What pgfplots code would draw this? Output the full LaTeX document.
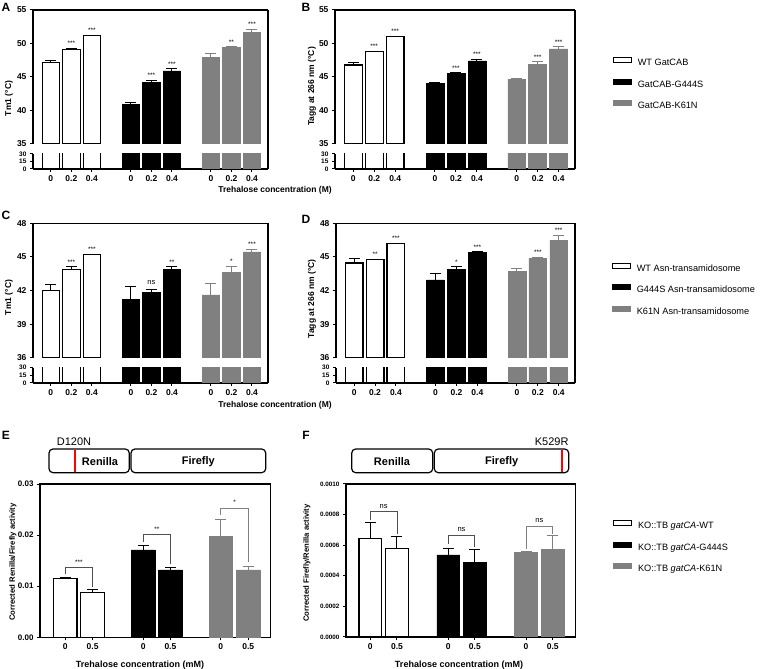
\documentclass[border=0pt]{standalone}
\usepackage{pgfplots}
\pgfplotsset{compat=1.18}
\usepackage{fontspec}
\setmainfont{Liberation Sans}
\definecolor{bgray}{RGB}{128,128,128}
\definecolor{bkt}{RGB}{80,80,80}
\tikzset{
  ann/.style={font=\fontsize{6.5}{7}\selectfont, inner sep=0pt, anchor=base, yshift=2.7pt},
  nsl/.style={font=\fontsize{7.5}{8}\selectfont, inner sep=0pt, anchor=base, yshift=4.5pt},
}
\pgfplotsset{
  base/.style={scale only axis, clip mode=individual, tick align=outside,
    axis line style={line width=1.1pt, black},
    major tick style={line width=1pt, black}, major tick length=3pt,
    /pgf/number format/assume math mode=true, scaled y ticks=false,
    tick label style={font=\bfseries\fontsize{8.5}{9}\selectfont},
    ytick pos=left},
  brk/.style={base, xmin=-0.87, xmax=10.58, /pgf/bar width=0.85},
  up/.style={brk, axis x line*=top, axis y line*=box, xtick=\empty},
  low/.style={brk, axis x line*=bottom, axis y line*=box, ymin=0, ymax=30,
    ytick={0,15,30}, yticklabels={0,15,30},
    yticklabel style={font=\bfseries\fontsize{6.5}{6.5}\selectfont},
    xtick={0,1,2,3.9,4.9,5.9,7.8,8.8,9.8},
    xticklabels={0,0.2,0.4,0,0.2,0.4,0,0.2,0.4}},
  wb/.style={ybar, bar shift=0pt, fill=white, draw=black, line width=1.2pt},
  bb/.style={ybar, bar shift=0pt, fill=black, draw=black, line width=0.6pt},
  gb/.style={ybar, bar shift=0pt, fill=bgray, draw=bgray, line width=0.6pt},
  eb/.style={error bars/.cd, y dir=plus, y explicit, error mark=-,
    error bar style={line width=1pt, draw=#1, solid},
    error mark options={rotate=90, mark size=5.5pt, line width=1pt, draw=#1}},
  bk/.style={sharp plot, no marks, line width=0.9pt, draw=#1},
  lgbase/.style={legend style={anchor=west, draw=none, fill=none, inner sep=0pt, outer sep=0pt,
      row sep=11pt, column sep=6pt, font=\fontsize{9.2}{11}\selectfont,
      nodes={inner sep=0pt, text height=7pt, text depth=2pt}},
    legend cell align=left},
}
\begin{document}
\begin{tikzpicture}[x=1pt,y=1pt]
\path[use as bounding box] (0pt,0pt) rectangle (760pt,669pt);

% ================= A =================
\begin{axis}[up, at={(33pt,525pt)}, anchor=south west, width=235pt, height=134pt,
  ymin=35, ymax=55, ytick={35,40,45,50,55}, yticklabels={35,40,45,50,55}]
\addplot[wb, eb=black] coordinates {(0,47.2) +- (0,0.2) (1,49.1) +- (0,0.2) (2,51.2) +- (0,0.05)};
\addplot[bb, eb=black] coordinates {(3.9,40.9) +- (0,0.25) (4.9,44.2) +- (0,0.3) (5.9,45.9) +- (0,0.3)};
\addplot[gb, eb=bgray] coordinates {(7.8,47.9) +- (0,0.55) (8.8,49.4) +- (0,0.1) (9.8,51.6) +- (0,0.5)};
\node[ann] at (axis cs:1,49.3) {***};
\node[ann] at (axis cs:2,51.25) {***};
\node[ann] at (axis cs:4.9,44.5) {***};
\node[ann] at (axis cs:5.9,46.2) {***};
\node[ann] at (axis cs:8.8,49.5) {**};
\node[ann] at (axis cs:9.8,52.1) {***};
\end{axis}
\begin{axis}[low, at={(33pt,500pt)}, anchor=south west, width=235pt, height=15pt]
\addplot[wb] coordinates {(0,47.2) (1,49.1) (2,51.2)};
\addplot[bb] coordinates {(3.9,40.9) (4.9,44.2) (5.9,45.9)};
\addplot[gb] coordinates {(7.8,47.9) (8.8,49.4) (9.8,51.6)};
\end{axis}
\draw[line width=1.1pt] (268pt,515pt) -- (268pt,525pt);

% ================= B =================
\begin{axis}[up, at={(335pt,525pt)}, anchor=south west, width=240pt, height=134pt,
  ymin=35, ymax=55, ytick={35,40,45,50,55}, yticklabels={35,40,45,50,55},
  lgbase, legend style={at={(1,0.448)}, xshift=38pt},
  every axis plot post/.append style={legend image code/.code={\draw[##1, line width=0.8pt] (0pt,0.5pt) rectangle (18pt,5.5pt);}}]
\addplot[wb, eb=black] coordinates {(0,46.8) +- (0,0.3) (1,48.8) +- (0,0.05) (2,51.0) +- (0,0.1)};
\addplot[bb, eb=black] coordinates {(3.9,44.1) +- (0,0.05) (4.9,45.5) +- (0,0.1) (5.9,47.4) +- (0,0.25)};
\addplot[gb, eb=bgray] coordinates {(7.8,44.6) +- (0,0.15) (8.8,46.9) +- (0,0.35) (9.8,49.2) +- (0,0.3)};
\legend{WT GatCAB, GatCAB-G444S, GatCAB-K61N}
\node[ann] at (axis cs:1,48.85) {***};
\node[ann] at (axis cs:2,51.1) {***};
\node[ann] at (axis cs:4.9,45.6) {***};
\node[ann] at (axis cs:5.9,47.65) {***};
\node[ann] at (axis cs:8.8,47.25) {***};
\node[ann] at (axis cs:9.8,49.5) {***};
\end{axis}
\begin{axis}[low, at={(335pt,500pt)}, anchor=south west, width=240pt, height=15pt]
\addplot[wb] coordinates {(0,46.8) (1,48.8) (2,51.0)};
\addplot[bb] coordinates {(3.9,44.1) (4.9,45.5) (5.9,47.4)};
\addplot[gb] coordinates {(7.8,44.6) (8.8,46.9) (9.8,49.2)};
\end{axis}
\draw[line width=1.1pt] (575pt,515pt) -- (575pt,525pt);

% ================= C =================
\begin{axis}[up, at={(33pt,311.3pt)}, anchor=south west, width=235pt, height=134.4pt,
  ymin=36, ymax=48, ytick={36,39,42,45,48}, yticklabels={36,39,42,45,48}]
\addplot[wb, eb=black] coordinates {(0,42.0) +- (0,0.55) (1,43.9) +- (0,0.2) (2,45.2) +- (0,0.02)};
\addplot[bb, eb=black] coordinates {(3.9,41.2) +- (0,1.2) (4.9,41.8) +- (0,0.3) (5.9,43.9) +- (0,0.2)};
\addplot[gb, eb=bgray] coordinates {(7.8,41.6) +- (0,1.0) (8.8,43.6) +- (0,0.55) (9.8,45.45) +- (0,0.25)};
\node[ann] at (axis cs:1,44.1) {***};
\node[ann] at (axis cs:2,45.22) {***};
\node[nsl] at (axis cs:4.9,42.1) {ns};
\node[ann] at (axis cs:5.9,44.1) {**};
\node[ann] at (axis cs:8.8,44.15) {*};
\node[ann] at (axis cs:9.8,45.7) {***};
\end{axis}
\begin{axis}[low, at={(33pt,286pt)}, anchor=south west, width=235pt, height=15.3pt]
\addplot[wb] coordinates {(0,42.0) (1,43.9) (2,45.2)};
\addplot[bb] coordinates {(3.9,41.2) (4.9,41.8) (5.9,43.9)};
\addplot[gb] coordinates {(7.8,41.6) (8.8,43.6) (9.8,45.45)};
\end{axis}
\draw[line width=1.1pt] (268pt,301.3pt) -- (268pt,311.3pt);

% ================= D =================
\begin{axis}[up, at={(336pt,311.3pt)}, anchor=south west, width=239pt, height=134.4pt,
  ymin=36, ymax=48, ytick={36,39,42,45,48}, yticklabels={36,39,42,45,48},
  lgbase, legend style={at={(1,0.507)}, xshift=37pt},
  every axis plot post/.append style={legend image code/.code={\draw[##1, line width=0.8pt] (0pt,0.5pt) rectangle (18pt,5.5pt);}}]
\addplot[wb, eb=black] coordinates {(0,44.45) +- (0,0.4) (1,44.75) +- (0,0.03) (2,46.2) +- (0,0.02)};
\addplot[bb, eb=black] coordinates {(3.9,42.95) +- (0,0.55) (4.9,43.9) +- (0,0.2) (5.9,45.4) +- (0,0.05)};
\addplot[gb, eb=bgray] coordinates {(7.8,43.7) +- (0,0.27) (8.8,44.9) +- (0,0.05) (9.8,46.5) +- (0,0.4)};
\legend{WT Asn-transamidosome, G444S Asn-transamidosome, K61N Asn-transamidosome}
\node[ann] at (axis cs:1,44.8) {**};
\node[ann] at (axis cs:2,46.25) {***};
\node[ann] at (axis cs:4.9,44.1) {*};
\node[ann] at (axis cs:5.9,45.45) {***};
\node[ann] at (axis cs:8.8,44.95) {***};
\node[ann] at (axis cs:9.8,46.9) {***};
\end{axis}
\begin{axis}[low, at={(336pt,286pt)}, anchor=south west, width=239pt, height=15.3pt]
\addplot[wb] coordinates {(0,44.45) (1,44.75) (2,46.2)};
\addplot[bb] coordinates {(3.9,42.95) (4.9,43.9) (5.9,45.4)};
\addplot[gb] coordinates {(7.8,43.7) (8.8,44.9) (9.8,46.5)};
\end{axis}
\draw[line width=1.1pt] (575pt,301.3pt) -- (575pt,311.3pt);

% ================= E =================
\begin{axis}[base, at={(40pt,31.7pt)}, anchor=south west, width=230.7pt, height=153.3pt,
  xmin=-0.92, xmax=7.5, ymin=0, ymax=0.03, /pgf/bar width=0.86,
  ytick={0,0.01,0.02,0.03}, yticklabels={0.00,0.01,0.02,0.03},
  yticklabel style={font=\bfseries\fontsize{8}{8}\selectfont},
  xtick={0,1,2.85,3.84,5.68,6.68}, xticklabels={0,0.5,0,0.5,0,0.5}, xtick pos=left]
\addplot[wb, eb=black] coordinates {(0,0.0115) +- (0,0.0003) (1,0.0088) +- (0,0.0005)};
\addplot[bb, eb=black] coordinates {(2.85,0.0171) +- (0,0.0008) (3.84,0.0132) +- (0,0.0004)};
\addplot[gb, eb=bgray] coordinates {(5.68,0.0198) +- (0,0.0032) (6.68,0.0132) +- (0,0.0007)};
\addplot[bk=bkt] coordinates {(0,0.0123) (0,0.0136) (1,0.0136) (1,0.0098)};
\addplot[bk=bkt] coordinates {(2.85,0.0186) (2.85,0.0201) (3.84,0.0201) (3.84,0.0144)};
\addplot[bk=bgray] coordinates {(5.68,0.0239) (5.68,0.0253) (6.68,0.0253) (6.68,0.0147)};
\node[ann, yshift=0.5pt] at (axis cs:0.5,0.0136) {***};
\node[ann, yshift=0.5pt] at (axis cs:3.345,0.0201) {**};
\node[ann, yshift=0.5pt] at (axis cs:6.18,0.0253) {*};
\end{axis}

% ================= F =================
\begin{axis}[base, at={(346pt,32pt)}, anchor=south west, width=229.7pt, height=153pt,
  xmin=-0.91, xmax=7.7, ymin=0, ymax=0.001, /pgf/bar width=0.85,
  ytick={0,0.0002,0.0004,0.0006,0.0008,0.001},
  yticklabels={0.0000,0.0002,0.0004,0.0006,0.0008,0.0010},
  yticklabel style={font=\bfseries\fontsize{6.3}{6.5}\selectfont},
  xtick={0,1,2.92,3.92,5.84,6.84}, xticklabels={0,0.5,0,0.5,0,0.5}, xtick pos=left,
  lgbase, legend style={at={(1,0.588)}, xshift=37.5pt},
  every axis plot post/.append style={legend image code/.code={\draw[##1, line width=0.8pt] (0pt,0.5pt) rectangle (18pt,5.5pt);}}]
\addplot[wb, eb=black] coordinates {(0,0.000646) +- (0,0.0001) (1,0.00058) +- (0,0.000079)};
\addplot[bb, eb=black] coordinates {(2.92,0.000537) +- (0,0.000043) (3.92,0.000489) +- (0,0.000083)};
\addplot[gb, eb=bgray] coordinates {(5.84,0.000552) +- (0,0.00001) (6.84,0.000574) +- (0,0.00009)};
\legend{KO::TB \textit{gatCA}-WT, KO::TB \textit{gatCA}-G444S, KO::TB \textit{gatCA}-K61N}
\addplot[bk=bkt, forget plot] coordinates {(0,0.000763) (0,0.00082) (1,0.00082) (1,0.000676)};
\addplot[bk=bkt, forget plot] coordinates {(2.92,0.000611) (2.92,0.000665) (3.92,0.000665) (3.92,0.000589)};
\addplot[bk=bgray, forget plot] coordinates {(5.84,0.000578) (5.84,0.000724) (6.84,0.000724) (6.84,0.000676)};
\node[nsl, yshift=-1pt] at (axis cs:0.5,0.00082) {ns};
\node[nsl, yshift=-1pt] at (axis cs:3.42,0.000665) {ns};
\node[nsl, yshift=-1pt] at (axis cs:6.34,0.000724) {ns};
\end{axis}

% ================= labels =================
\node[font=\bfseries\fontsize{12}{12}\selectfont] at (6pt,661.5pt) {A};
\node[font=\bfseries\fontsize{12}{12}\selectfont] at (306pt,662pt) {B};
\node[font=\bfseries\fontsize{12}{12}\selectfont] at (6pt,454pt) {C};
\node[font=\bfseries\fontsize{12}{12}\selectfont] at (306pt,450pt) {D};
\node[font=\bfseries\fontsize{12}{12}\selectfont] at (6pt,234pt) {E};
\node[font=\bfseries\fontsize{12}{12}\selectfont] at (306pt,234pt) {F};

\node[rotate=90, font=\bfseries\fontsize{8.5}{9}\selectfont] at (9pt,570.5pt) {Tm1 (°C)};
\node[rotate=90, font=\bfseries\fontsize{8.5}{9}\selectfont] at (312pt,582.5pt) {Tagg at 266 nm (°C)};
\node[rotate=90, font=\bfseries\fontsize{8.5}{9}\selectfont] at (9pt,371.5pt) {Tm1 (°C)};
\node[rotate=90, font=\bfseries\fontsize{8.5}{9}\selectfont] at (312pt,370pt) {Tagg at 266 nm (°C)};
\node[rotate=90, font=\bfseries\fontsize{7.7}{8}\selectfont] at (13pt,107pt) {Corrected Renilla/Firefly activity};
\node[rotate=90, font=\bfseries\fontsize{7.7}{8}\selectfont] at (307pt,106pt) {Corrected Firefly/Renilla activity};

\node[font=\bfseries\fontsize{8.5}{9}\selectfont] at (275pt,479pt) {Trehalose concentration (M)};
\node[font=\bfseries\fontsize{8.5}{9}\selectfont] at (275pt,264pt) {Trehalose concentration (M)};
\node[font=\bfseries\fontsize{9}{9}\selectfont] at (140pt,4pt) {Trehalose concentration (mM)};
\node[font=\bfseries\fontsize{9}{9}\selectfont] at (459pt,4pt) {Trehalose concentration (mM)};

% ================= luciferase diagrams =================
\draw[line width=1.2pt, rounded corners=4pt] (49pt,196.3pt) rectangle (129.3pt,220pt);
\draw[line width=1.2pt, rounded corners=4pt] (131pt,196.3pt) rectangle (265.7pt,220pt);
\draw[red, line width=1.8pt] (75pt,196.9pt) -- (75pt,219.4pt);
\node[font=\fontsize{11}{11}\selectfont] at (74pt,227.3pt) {D120N};
\node[font=\bfseries\fontsize{11}{11}\selectfont] at (100pt,207.8pt) {Renilla};
\node[font=\bfseries\fontsize{11}{11}\selectfont] at (198.3pt,207.8pt) {Firefly};

\draw[line width=1.2pt, rounded corners=4pt] (351.7pt,196.3pt) rectangle (432.7pt,220pt);
\draw[line width=1.2pt, rounded corners=4pt] (434.3pt,196.3pt) rectangle (568.7pt,220pt);
\draw[red, line width=1.8pt] (562pt,196.9pt) -- (562pt,219.4pt);
\node[font=\fontsize{11}{11}\selectfont] at (551.7pt,227.3pt) {K529R};
\node[font=\bfseries\fontsize{11}{11}\selectfont] at (392pt,207.8pt) {Renilla};
\node[font=\bfseries\fontsize{11}{11}\selectfont] at (501.7pt,207.8pt) {Firefly};
\end{tikzpicture}
\end{document}
